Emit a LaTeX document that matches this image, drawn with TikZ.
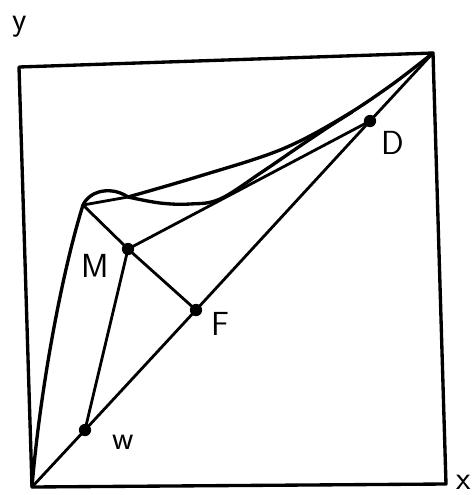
\documentclass[tikz,border=0pt]{standalone}
\begin{document}
\begin{tikzpicture}[x=0.02cm,y=-0.02cm,line join=round,line cap=round,
  boxline/.style={line width=1.9pt},
  curveline/.style={line width=1.9pt},
  tieline/.style={line width=1.6pt},
  dot/.style={circle,fill,inner sep=0pt,minimum size=7pt},
  lbl/.style={font=\sffamily\fontsize{19}{22}\selectfont,inner sep=0pt}]
\useasboundingbox (0,0) rectangle (472,495);
% frame corners
\coordinate (O) at (32,487);
\coordinate (TL) at (19,67);
\coordinate (T) at (433,53);
\coordinate (BR) at (446,484);
% key points
\coordinate (P) at (83,205);
\coordinate (J) at (128,197);
\node[dot] (W) at (85,430) {};
\node[dot] (M) at (128,249) {};
\node[dot] (F) at (196,310) {};
\node[dot] (D) at (370,121) {};
% frame
\draw[boxline] (O) -- (TL) -- (T) -- (BR) -- cycle;
% diagonal
\draw[tieline] (O) -- (W.center) -- (F.center) -- (D.center) -- (T);
% curve: left branch and hump
\draw[curveline] (O) .. controls (40,390) and (62,272) .. (P);
\draw[curveline] (P) .. controls (90,190) and (112,186) .. (J);
\draw[tieline] (P) -- (J);
% upper curve
\draw[curveline] plot[smooth,tension=0.6] coordinates {(128,197) (200,176) (280,150) (340,119) (390,86) (433,53)};
% lower sagging curve
\draw[curveline] plot[smooth,tension=0.6] coordinates {(128,197) (160,203) (190,204) (220,199) (262,172) (300,146) (330,126) (352,112)};
% construction lines
\draw[tieline] (P) -- (M.center) -- (F.center);
\draw[tieline] (M.center) -- (D.center);
\draw[tieline] (M.center) -- (W.center);
% labels
\node[lbl] (ly) at (20,27) {y};
\node[lbl] (lx) at (464,482) {x};
\node[lbl] (lM) at (95,266) {M};
\node[lbl] (lF) at (220,324) {F};
\node[lbl] (lD) at (393,143) {D};
\node[lbl] (lW) at (123,442) {w};
\end{tikzpicture}
\end{document}
